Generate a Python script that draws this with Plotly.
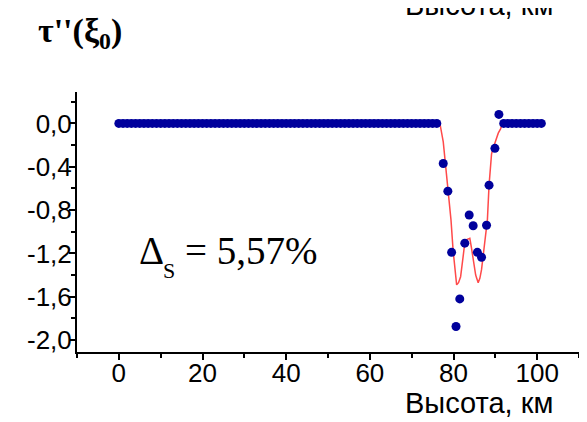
import plotly.graph_objects as go

# ---- data ----
# measured points: height (km) and tau''(xi0)
height_pts = [0, 1, 2, 3, 4, 5, 6, 7, 8, 9, 10, 11, 12, 13, 14, 15, 16, 17, 18, 19,
              20, 21, 22, 23, 24, 25, 26, 27, 28, 29, 30, 31, 32, 33, 34, 35, 36, 37, 38, 39,
              40, 41, 42, 43, 44, 45, 46, 47, 48, 49, 50, 51, 52, 53, 54, 55, 56, 57, 58, 59,
              60, 61, 62, 63, 64, 65, 66, 67, 68, 69, 70, 71, 72, 73, 74, 75, 76,
              77.55, 78.65, 79.55, 80.6, 81.5, 82.7, 83.75, 84.7, 85.7, 86.7, 87.9, 88.5, 89.9, 90.85,
              92, 93, 94, 95, 96, 97, 98, 99, 100, 101]
tau_pts = [0.0] * 77 + [-0.37, -0.625, -1.19, -1.875, -1.62, -1.105, -0.845, -0.945, -1.19, -1.235,
                        -0.94, -0.57, -0.23, 0.083] + [0.0] * 10

# fitted curve (red line)
height_fit = [0, 76.75, 77.55, 78.35, 79.0, 79.4, 79.9, 80.4, 80.75, 81.2, 81.7, 82.3, 82.7, 83.3, 83.9,
              84.3, 84.7, 85.3, 85.9, 86.3, 86.7, 87.1, 87.5, 88.1, 88.5, 89.1, 89.9, 90.7, 91.25, 91.7, 100]
tau_fit = [0.0, 0.0, -0.17, -0.49, -0.80, -0.89, -1.17, -1.40, -1.49, -1.47, -1.415, -1.23, -1.10, -1.07, -1.06,
           -1.15, -1.26, -1.40, -1.47, -1.43, -1.35, -1.20, -1.05, -0.89, -0.57, -0.28, -0.18, -0.09, -0.05, 0.0, 0.0]

x_ticks = [0, 20, 40, 60, 80, 100]
y_ticks = [0.0, -0.4, -0.8, -1.2, -1.6, -2.0]
y_tick_text = ["0,0", "-0,4", "-0,8", "-1,2", "-1,6", "-2,0"]

axis_title = "Высота, км"
y_title = "<b>τ''(ξ<sub>0</sub>)</b>"
delta_symbol = "Δ"
delta_sub = "S"
delta_value = "= 5,57%"

SANS = "Arial, Liberation Sans, sans-serif"
SERIF = "Times New Roman, Liberation Serif, serif"

fig = go.Figure()
fig.add_trace(go.Scatter(x=height_fit, y=tau_fit, mode="lines",
                         line=dict(color="#ff4a4a", width=1.5), showlegend=False,
                         hoverinfo="skip"))
fig.add_trace(go.Scatter(x=height_pts, y=tau_pts, mode="markers",
                         marker=dict(color="#00009c", size=9, line=dict(width=0)),
                         showlegend=False))

fig.update_layout(
    width=587, height=422,
    margin=dict(l=69, r=16, t=84, b=78),
    paper_bgcolor="white", plot_bgcolor="white",
    font=dict(family=SANS, color="black"),
    xaxis=dict(range=[-10, 110], tickmode="array", tickvals=x_ticks,
               ticktext=[str(v) for v in x_ticks],
               showgrid=False, zeroline=False, showline=True, linecolor="black", linewidth=2,
               ticks="outside", ticklen=6, tickwidth=1.5, tickcolor="black",
               ticklabelstandoff=-9,
               tickfont=dict(size=26, family=SANS, color="black"),
               minor=dict(tickvals=[-10, 10, 30, 50, 70, 90, 110], ticks="outside", ticklen=4,
                          tickwidth=1.5, tickcolor="black", showgrid=False)),
    yaxis=dict(range=[-2.11, 0.29], tickmode="array", tickvals=y_ticks, ticktext=y_tick_text,
               showgrid=False, zeroline=False, showline=True, linecolor="black", linewidth=2,
               ticks="outside", ticklen=6, tickwidth=1.5, tickcolor="black",
               ticklabelstandoff=-8,
               tickfont=dict(size=26, family=SANS, color="black"),
               minor=dict(tickvals=[0.2, -0.2, -0.6, -1.0, -1.4, -1.8], ticks="outside", ticklen=4,
                          tickwidth=1.5, tickcolor="black", showgrid=False)),
)

fig.add_annotation(text=y_title, xref="paper", yref="paper", x=-0.082, y=1.225,
                   xanchor="left", yanchor="middle", showarrow=False,
                   font=dict(family=SERIF, size=34, color="black"))
fig.add_annotation(text=axis_title, xref="paper", yref="paper", x=0.952, y=1.335,
                   xanchor="right", yanchor="middle", showarrow=False,
                   font=dict(family=SANS, size=29, color="black"))
fig.add_annotation(text=axis_title, xref="paper", yref="paper", x=0.952, y=-0.196,
                   xanchor="right", yanchor="middle", showarrow=False,
                   font=dict(family=SANS, size=29, color="black"))
fig.add_annotation(text=delta_symbol, xref="paper", yref="paper", x=0.1195, y=0.39,
                   xanchor="left", yanchor="middle", showarrow=False,
                   font=dict(family=SERIF, size=39, color="black"))
fig.add_annotation(text=delta_sub, xref="paper", yref="paper", x=0.1673, y=0.3135,
                   xanchor="left", yanchor="middle", showarrow=False,
                   font=dict(family=SERIF, size=22, color="black"))
fig.add_annotation(text=delta_value, xref="paper", yref="paper", x=0.211, y=0.39,
                   xanchor="left", yanchor="middle", showarrow=False,
                   font=dict(family=SERIF, size=39, color="black"))

fig.write_html("out.html")
